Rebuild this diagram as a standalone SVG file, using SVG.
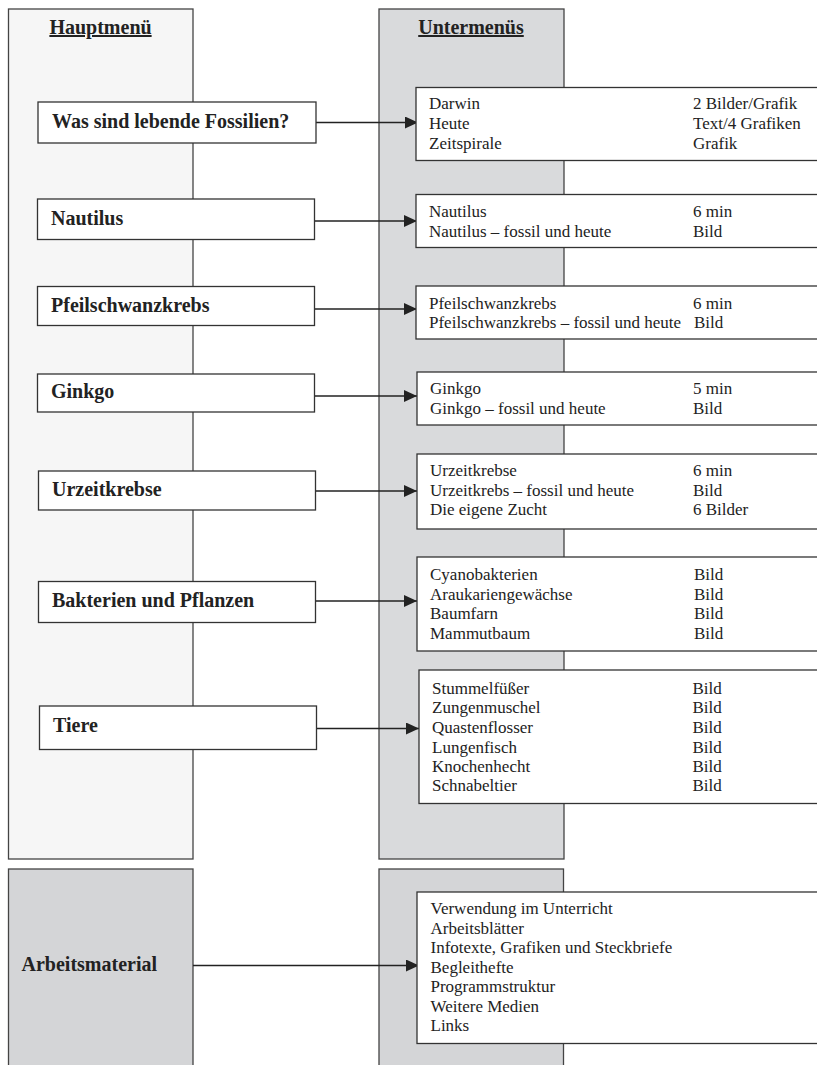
<svg xmlns="http://www.w3.org/2000/svg" width="817" height="1065" viewBox="0 0 817 1065">
<style>
.panel{stroke:#444;stroke-width:1.3}
.box{fill:#fff;stroke:#333;stroke-width:1.3}
.h{font-family:"Liberation Serif",serif;font-weight:bold;font-size:20px;fill:#222;text-decoration:underline}
.m{font-family:"Liberation Serif",serif;font-weight:bold;font-size:20px;fill:#222}
.s{font-family:"Liberation Serif",serif;font-size:17px;fill:#222}
.c{stroke:#222;stroke-width:1.3;fill:none}
</style>
<defs>
<marker id="ah" markerWidth="13" markerHeight="12" refX="13" refY="6" orient="auto" markerUnits="userSpaceOnUse">
<path d="M0,0 L13,6 L0,12 Z" fill="#222"/>
</marker>
</defs>
<g id="panels">
<rect class="panel" x="8.5" y="9" width="184.5" height="850" fill="#f6f6f6"/>
<rect class="panel" x="379" y="9" width="185" height="850" fill="#d9dadc"/>
<rect class="panel" x="8.5" y="869" width="184.5" height="220" fill="#d4d5d7"/>
<rect class="panel" x="379" y="869" width="184.5" height="220" fill="#d4d5d7"/>
<text class="h" x="100.5" y="34" text-anchor="middle">Hauptmenü</text>
<text class="h" x="471" y="34" text-anchor="middle">Untermenüs</text>
<text class="m" x="21.5" y="971">Arbeitsmaterial</text>
</g>
<g id="connectors">
<line class="c" x1="316" y1="122.5" x2="418" y2="122.5" marker-end="url(#ah)"/>
<line class="c" x1="314.5" y1="221" x2="417" y2="221" marker-end="url(#ah)"/>
<line class="c" x1="314.5" y1="309" x2="417" y2="309" marker-end="url(#ah)"/>
<line class="c" x1="313" y1="396" x2="417" y2="396" marker-end="url(#ah)"/>
<line class="c" x1="313" y1="491" x2="417" y2="491" marker-end="url(#ah)"/>
<line class="c" x1="315.5" y1="601" x2="417" y2="601" marker-end="url(#ah)"/>
<line class="c" x1="317" y1="728.5" x2="419" y2="728.5" marker-end="url(#ah)"/>
<line class="c" x1="193" y1="965.5" x2="419" y2="965.5" marker-end="url(#ah)"/>
</g>
<g id="m1"><rect class="box" x="38" y="102" width="278" height="41"/><text class="m" x="52" y="128">Was sind lebende Fossilien?</text></g>
<g id="m2"><rect class="box" x="37.5" y="199" width="277" height="40.5"/><text class="m" x="51" y="225">Nautilus</text></g>
<g id="m3"><rect class="box" x="37.5" y="286.5" width="277" height="39"/><text class="m" x="51" y="312">Pfeilschwanzkrebs</text></g>
<g id="m4"><rect class="box" x="37.5" y="374" width="277" height="38"/><text class="m" x="51" y="398">Ginkgo</text></g>
<g id="m5"><rect class="box" x="38.5" y="471" width="277" height="39"/><text class="m" x="52" y="496">Urzeitkrebse</text></g>
<g id="m6"><rect class="box" x="38.5" y="581.5" width="277" height="41"/><text class="m" x="52" y="607">Bakterien und Pflanzen</text></g>
<g id="m7"><rect class="box" x="39.5" y="706" width="277" height="43.5"/><text class="m" x="53" y="732">Tiere</text></g>
<g id="s1"><rect class="box" x="416" y="87.5" width="420" height="73"/>
<text class="s" x="429" y="109">Darwin</text><text class="s" x="429" y="129">Heute</text><text class="s" x="429" y="148.5">Zeitspirale</text>
<text class="s" x="693" y="109">2 Bilder/Grafik</text><text class="s" x="693" y="129">Text/4 Grafiken</text><text class="s" x="693" y="148.5">Grafik</text></g>
<g id="s2"><rect class="box" x="416" y="194.5" width="420" height="53"/>
<text class="s" x="429" y="217">Nautilus</text><text class="s" x="429" y="236.5">Nautilus – fossil und heute</text>
<text class="s" x="693" y="217">6 min</text><text class="s" x="693" y="236.5">Bild</text></g>
<g id="s3"><rect class="box" x="416" y="286" width="420" height="53"/>
<text class="s" x="429" y="308.5">Pfeilschwanzkrebs</text><text class="s" x="429" y="327.5">Pfeilschwanzkrebs – fossil und heute</text>
<text class="s" x="693" y="308.5">6 min</text><text class="s" x="694" y="327.5">Bild</text></g>
<g id="s4"><rect class="box" x="417" y="372" width="420" height="53"/>
<text class="s" x="430" y="394">Ginkgo</text><text class="s" x="430" y="413.5">Ginkgo – fossil und heute</text>
<text class="s" x="693" y="394">5 min</text><text class="s" x="693" y="413.5">Bild</text></g>
<g id="s5"><rect class="box" x="417" y="454" width="420" height="75"/>
<text class="s" x="430" y="476">Urzeitkrebse</text><text class="s" x="430" y="495.5">Urzeitkrebs – fossil und heute</text><text class="s" x="430" y="515">Die eigene Zucht</text>
<text class="s" x="693" y="476">6 min</text><text class="s" x="693" y="495.5">Bild</text><text class="s" x="693" y="515">6 Bilder</text></g>
<g id="s6"><rect class="box" x="417" y="557" width="420" height="94"/>
<text class="s" x="430" y="579.5">Cyanobakterien</text><text class="s" x="430" y="599.5">Araukariengewächse</text><text class="s" x="430" y="618.5">Baumfarn</text><text class="s" x="430" y="638.5">Mammutbaum</text>
<text class="s" x="694" y="579.5">Bild</text><text class="s" x="694" y="599.5">Bild</text><text class="s" x="694" y="618.5">Bild</text><text class="s" x="694" y="638.5">Bild</text></g>
<g id="s7"><rect class="box" x="419" y="670" width="420" height="133.5"/>
<text class="s" x="432" y="693.5">Stummelfüßer</text><text class="s" x="432" y="712.5">Zungenmuschel</text><text class="s" x="432" y="732.5">Quastenflosser</text><text class="s" x="432" y="752.5">Lungenfisch</text><text class="s" x="432" y="771.5">Knochenhecht</text><text class="s" x="432" y="791">Schnabeltier</text>
<text class="s" x="692.5" y="693.5">Bild</text><text class="s" x="692.5" y="712.5">Bild</text><text class="s" x="692.5" y="732.5">Bild</text><text class="s" x="692.5" y="752.5">Bild</text><text class="s" x="692.5" y="771.5">Bild</text><text class="s" x="692.5" y="791">Bild</text></g>
<g id="s8"><rect class="box" x="417" y="892" width="420" height="151.5"/>
<text class="s" x="430.5" y="914">Verwendung im Unterricht</text><text class="s" x="430.5" y="933.5">Arbeitsblätter</text><text class="s" x="430.5" y="953">Infotexte, Grafiken und Steckbriefe</text><text class="s" x="430.5" y="972.5">Begleithefte</text><text class="s" x="430.5" y="992">Programmstruktur</text><text class="s" x="430.5" y="1011.5">Weitere Medien</text><text class="s" x="430.5" y="1031">Links</text></g>
</svg>
